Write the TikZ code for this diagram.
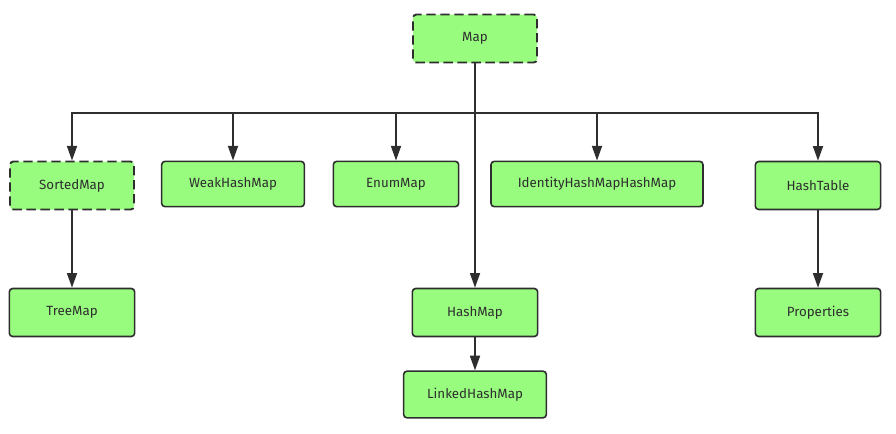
\documentclass[tikz,border=0pt]{standalone}
\usepackage{fontspec}
\setmainfont{Fira Sans}
\usetikzlibrary{arrows.meta}
\definecolor{boxfill}{HTML}{98FC7F}
\definecolor{ink}{HTML}{2E2E2E}
\begin{document}
\begin{tikzpicture}[x=0.75pt,y=-0.75pt,
  box/.style={draw=ink,fill=boxfill,rounded corners=2.5pt,line width=1.2pt,
    minimum height=36pt,text=ink,font=\fontsize{10}{12}\selectfont},
  dbox/.style={box,dashed,dash pattern=on 7pt off 3.5pt,line width=1.4pt},
  arr/.style={draw=ink,line width=1.3pt,-{Triangle[length=11pt,width=7.5pt]}}]
\useasboundingbox (0,0) rectangle (896,433);
\node[dbox,minimum width=93pt] (map) at (475,38.5) {Map};
\node[dbox,minimum width=93pt] (sorted) at (72,185.5) {SortedMap};
\node[box,minimum width=107pt,minimum height=34pt] (weak) at (233,184) {WeakHashMap};
\node[box,minimum width=94pt,minimum height=34pt] (enum) at (396,184) {EnumMap};
\node[box,minimum width=159pt,minimum height=34pt] (ident) at (597,184) {IdentityHashMapHashMap};
\node[box,minimum width=94pt] (htable) at (818,185.5) {HashTable};
\node[box,minimum width=94pt] (tree) at (72,312.5) {TreeMap};
\node[box,minimum width=94pt] (hmap) at (475,312.5) {HashMap};
\node[box,minimum width=107pt,minimum height=35pt] (linked) at (475,394.5) {LinkedHashMap};
\node[box,minimum width=94pt] (props) at (818,312.5) {Properties};
\coordinate (bar) at (475,113);
\draw[arr] (map.south) -- (hmap.north);
\draw[arr] (bar) -| (sorted.north);
\draw[arr] (bar) -| (weak.north);
\draw[arr] (bar) -| (enum.north);
\draw[arr] (bar) -| (ident.north);
\draw[arr] (bar) -| (htable.north);
\draw[arr] (sorted.south) -- (tree.north);
\draw[arr] (hmap.south) -- (linked.north);
\draw[arr] (htable.south) -- (props.north);
\end{tikzpicture}
\end{document}
